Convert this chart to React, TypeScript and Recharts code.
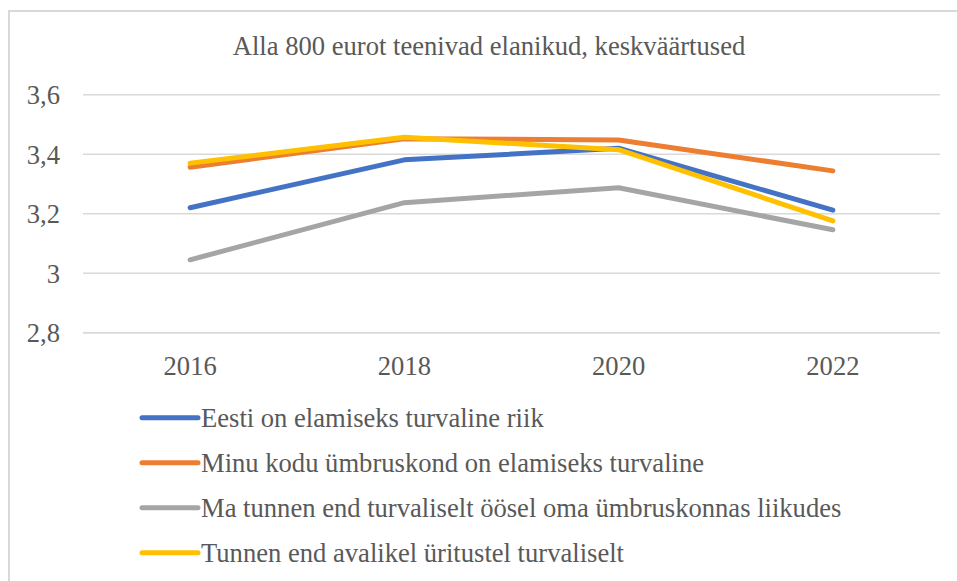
import React from 'react';
import { LineChart, Line, XAxis, YAxis, CartesianGrid, Legend } from 'recharts';

const years = ['2016', '2018', '2020', '2022'];
const eestiTurvaline = [3.22, 3.381, 3.42, 3.212];
const koduYmbrus = [3.356, 3.452, 3.448, 3.344];
const ooselLiikudes = [3.045, 3.237, 3.287, 3.146];
const avalikudYritused = [3.37, 3.457, 3.415, 3.176];
const yTicks = [2.8, 3.0, 3.2, 3.4, 3.6];

const seriesNames = [
  'Eesti on elamiseks turvaline riik',
  'Minu kodu ümbruskond on elamiseks turvaline',
  'Ma tunnen end turvaliselt öösel oma ümbruskonnas liikudes',
  'Tunnen end avalikel üritustel turvaliselt',
];
const seriesColors = ['#4472C4', '#ED7D31', '#A5A5A5', '#FFC000'];
const seriesValues = [eestiTurvaline, koduYmbrus, ooselLiikudes, avalikudYritused];
const keys = ['s0', 's1', 's2', 's3'];

const data = years.map((y, i) => {
  const row: any = { year: y };
  keys.forEach((k, j) => {
    row[k] = seriesValues[j][i];
  });
  return row;
});

const FONT = 'Liberation Serif, Tinos, Times New Roman, serif';
const TEXT = '#595959';
const FS = 26.6;

const fmt = (v: number) => String(+v.toFixed(1)).replace('.', ',');

const LegendContent = () => (
  <svg width={957} height={186} style={{ display: 'block' }}>
    {seriesNames.map((name, i) => (
      <g key={i}>
        <line
          x1={142}
          x2={198}
          y1={22.7 + 45 * i}
          y2={22.7 + 45 * i}
          stroke={seriesColors[i]}
          strokeWidth={5}
          strokeLinecap="round"
        />
        <text x={201} y={31.7 + 45 * i} style={{ fontFamily: FONT }} fontSize={FS} fill={TEXT}>
          {name}
        </text>
      </g>
    ))}
  </svg>
);

export default function App() {
  return (
    <div style={{ position: 'absolute', left: 0, top: 0, width: 957, height: 581, overflow: 'hidden', background: '#fff', fontFamily: FONT }}>
      <div
        style={{
          position: 'absolute',
          left: 8,
          top: 10,
          width: 1100,
          height: 1100,
          border: '2px solid #D9D9D9',
          boxSizing: 'border-box',
        }}
      />
      <svg width={957} height={80} style={{ position: 'absolute', left: 0, top: 0 }}>
        <text x={489} y={55} textAnchor="middle" style={{ fontFamily: FONT }} fontSize={FS} fill={TEXT}>
          Alla 800 eurot teenivad elanikud, keskväärtused
        </text>
      </svg>
      <div style={{ position: 'absolute', left: 0, top: 0 }}>
        <LineChart
          width={957}
          height={581}
          data={data}
          margin={{ top: 94.7, right: 17, bottom: 208.3, left: 0 }}
          style={{ fontFamily: FONT }}
        >
          <CartesianGrid vertical={false} stroke="#D9D9D9" strokeWidth={1.5} />
          <XAxis
            dataKey="year"
            scale="band"
            height={40}
            tickLine={false}
            tickSize={0}
            tickMargin={23}
            axisLine={{ stroke: '#D9D9D9', strokeWidth: 1.5 }}
            tick={{ fontFamily: FONT, fontSize: FS, fill: TEXT }}
          />
          <YAxis
            width={83}
            domain={[2.8, 3.6]}
            ticks={yTicks}
            tickFormatter={fmt}
            axisLine={false}
            tickLine={false}
            tickSize={0}
            tickMargin={23}
            tick={{ fontFamily: FONT, fontSize: FS, fill: TEXT }}
            allowDataOverflow
          />
          <Legend
            layout="horizontal"
            verticalAlign="middle"
            align="center"
            wrapperStyle={{ left: 0, top: 395, width: 957, height: 186 }}
            content={<LegendContent />}
          />
          {keys.map((k, j) => (
            <Line
              key={k}
              dataKey={k}
              name={seriesNames[j]}
              stroke={seriesColors[j]}
              strokeWidth={5}
              strokeLinecap="round"
              strokeLinejoin="round"
              dot={false}
              activeDot={false}
              isAnimationActive={false}
            />
          ))}
        </LineChart>
      </div>
    </div>
  );
}
